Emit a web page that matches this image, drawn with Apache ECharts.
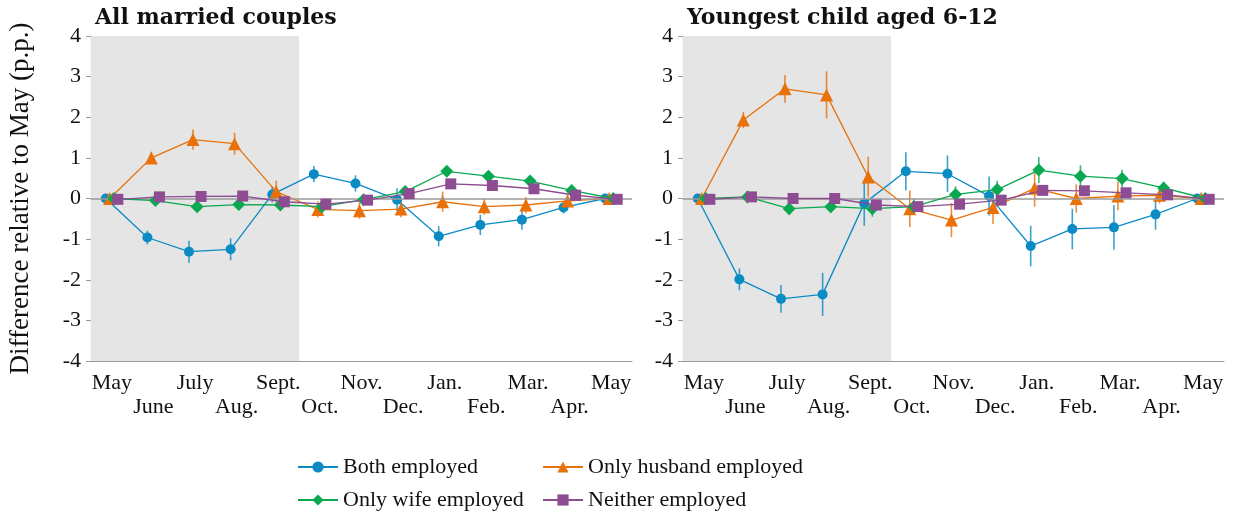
<!DOCTYPE html>
<html>
<head>
<meta charset="utf-8">
<script src="https://cdn.jsdelivr.net/npm/echarts@6/dist/echarts.min.js"></script>
<style>
  html, body { margin: 0; padding: 0; background: #fff; }
  #chart { width: 1237px; height: 516px; }
</style>
</head>
<body>
<div id="chart"></div>
<script>
// months on the x axis
var months = ['May', 'June', 'July', 'Aug.', 'Sept.', 'Oct.', 'Nov.', 'Dec.', 'Jan.', 'Feb.', 'Mar.', 'Apr.', 'May'];
var yTicks = [-4, -3, -2, -1, 0, 1, 2, 3, 4];
var seriesNames = ['Both employed', 'Only husband employed', 'Only wife employed', 'Neither employed'];
var panelTitles = ['All married couples', 'Youngest child aged 6-12'];

// panel 1: all married couples (point estimate, half width of the bar)
var bothA = [0, -0.96, -1.31, -1.25, 0.1, 0.6, 0.37, -0.03, -0.93, -0.65, -0.52, -0.22, 0];
var bothAErr = [0, 0.17, 0.27, 0.27, 0.2, 0.2, 0.2, 0.28, 0.25, 0.25, 0.25, 0.15, 0.05];
var husbA = [0, 1.0, 1.45, 1.35, 0.17, -0.27, -0.3, -0.26, -0.08, -0.2, -0.16, -0.06, 0];
var husbAErr = [0, 0.15, 0.25, 0.27, 0.27, 0.2, 0.2, 0.2, 0.25, 0.2, 0.2, 0.15, 0.05];
var wifeA = [0, -0.05, -0.2, -0.15, -0.16, -0.2, -0.03, 0.17, 0.67, 0.55, 0.43, 0.2, 0];
var wifeAErr = [0, 0.08, 0.1, 0.1, 0.1, 0.1, 0.1, 0.1, 0.12, 0.1, 0.1, 0.1, 0.05];
var neithA = [-0.02, 0.04, 0.05, 0.06, -0.08, -0.14, -0.04, 0.12, 0.36, 0.32, 0.24, 0.08, -0.02];
var neithAErr = [0, 0.07, 0.07, 0.07, 0.07, 0.07, 0.07, 0.07, 0.08, 0.07, 0.07, 0.07, 0.04];

// panel 2: youngest child aged 6-12
var bothB = [0, -1.99, -2.47, -2.36, -0.12, 0.67, 0.61, 0.06, -1.17, -0.75, -0.71, -0.39, 0];
var bothBErr = [0, 0.27, 0.34, 0.53, 0.55, 0.47, 0.45, 0.48, 0.5, 0.5, 0.55, 0.38, 0.05];
var husbB = [0, 1.93, 2.7, 2.55, 0.53, -0.25, -0.53, -0.22, 0.25, 0.0, 0.06, 0.08, 0];
var husbBErr = [0, 0.2, 0.34, 0.58, 0.5, 0.45, 0.42, 0.41, 0.45, 0.35, 0.35, 0.2, 0.08];
var wifeB = [0, 0.04, -0.25, -0.2, -0.25, -0.2, 0.1, 0.22, 0.7, 0.55, 0.49, 0.26, 0];
var wifeBErr = [0, 0.12, 0.15, 0.15, 0.2, 0.2, 0.2, 0.22, 0.32, 0.27, 0.22, 0.15, 0.05];
var neithB = [-0.02, 0.04, 0.0, 0.0, -0.16, -0.2, -0.14, -0.04, 0.2, 0.19, 0.14, 0.09, -0.02];
var neithBErr = [0, 0.1, 0.1, 0.1, 0.1, 0.1, 0.1, 0.1, 0.1, 0.1, 0.1, 0.1, 0.05];

var colors = ['#0a8bc4', '#e8710a', '#0aa84f', '#8e4c93'];
var symbols = ['circle', 'triangle', 'diamond', 'rect'];
var symbolSizes = [10, 13, 13, 11];
var dodge = [-0.145, -0.05, 0.05, 0.145];
var serif = 'Liberation Serif';

var panels = [
  { vals: [bothA, husbA, wifeA, neithA], errs: [bothAErr, husbAErr, wifeAErr, neithAErr] },
  { vals: [bothB, husbB, wifeB, neithB], errs: [bothBErr, husbBErr, wifeBErr, neithBErr] }
];

var myChart = echarts.init(document.getElementById('chart'));

var grids = [
  { left: 91, right: 605, top: 36, bottom: 155 },
  { left: 683, right: 13, top: 36, bottom: 155 }
];
var xAxes = [];
var yAxes = [];
var series = [];

panels.forEach(function (p, g) {
  // visible category axis (labels + ticks)
  xAxes.push({
    gridIndex: g,
    type: 'category',
    data: months,
    boundaryGap: true,
    axisLine: { onZero: false, lineStyle: { color: '#9a9a9a', width: 1.2 } },
    axisTick: { alignWithLabel: true, length: 5, lineStyle: { color: '#9a9a9a' } },
    axisLabel: {
      interval: 0,
      color: '#111',
      fontFamily: serif,
      fontSize: 22,
      lineHeight: 24,
      margin: 10,
      formatter: function (v, i) { return i % 2 ? '\n' + v : v; }
    },
    splitLine: { show: false }
  });
  // hidden value axis used to place the dodged points
  xAxes.push({ gridIndex: g, type: 'value', min: -0.5, max: 12.5, show: false, axisLine: { onZero: false } });

  yAxes.push({
    gridIndex: g,
    type: 'value',
    min: yTicks[0], max: yTicks[yTicks.length - 1], interval: 1,
    name: g === 0 ? 'Difference relative to May (p.p.)' : '',
    nameLocation: 'middle',
    nameGap: 57,
    nameTextStyle: { fontFamily: serif, fontSize: 27, color: '#111' },
    axisLine: { show: true, onZero: false, lineStyle: { color: '#9a9a9a', width: 1.2 } },
    axisTick: { show: true, length: 5, lineStyle: { color: '#9a9a9a' } },
    axisLabel: { color: '#111', fontFamily: serif, fontSize: 22, margin: 10 },
    splitLine: { show: false }
  });

  var xi = g * 2 + 1;

  // shaded months + zero line
  series.push({
    name: 'bg' + g,
    type: 'line',
    xAxisIndex: xi,
    yAxisIndex: g,
    data: [],
    silent: true,
    z: 0,
    markArea: {
      silent: true,
      itemStyle: { color: '#e5e5e5' },
      data: [[{ xAxis: -0.5 }, { xAxis: 4.5 }]]
    },
    markLine: {
      silent: true,
      symbol: 'none',
      label: { show: false },
      lineStyle: { color: '#9a9a9a', width: 1.5, type: 'solid' },
      data: [{ yAxis: 0 }]
    }
  });

  p.vals.forEach(function (vals, s) {
    var err = p.errs[s];
    var bars = vals.map(function (v, i) { return [i + dodge[s], v - err[i], v + err[i]]; });
    series.push({
      name: seriesNames[s] + ' CI ' + g,
      type: 'custom',
      xAxisIndex: xi,
      yAxisIndex: g,
      z: 2,
      silent: true,
      encode: { x: 0, y: [1, 2] },
      data: bars,
      renderItem: function (params, api) {
        var a = api.coord([api.value(0), api.value(1)]);
        var b = api.coord([api.value(0), api.value(2)]);
        return {
          type: 'line',
          shape: { x1: a[0], y1: a[1], x2: b[0], y2: b[1] },
          style: { stroke: colors[s], lineWidth: 1.6, opacity: 0.8 }
        };
      }
    });
  });

  p.vals.forEach(function (vals, s) {
    series.push({
      name: seriesNames[s],
      type: 'line',
      xAxisIndex: xi,
      yAxisIndex: g,
      z: 3 + s,
      data: vals.map(function (v, i) { return [i + dodge[s], v]; }),
      symbol: symbols[s],
      symbolSize: symbolSizes[s],
      showAllSymbol: true,
      color: colors[s],
      lineStyle: { color: colors[s], width: 1.3 },
      itemStyle: { color: colors[s] }
    });
  });
});

// one legend per item so the 2x2 block lines up like the original
var legendText = { fontFamily: serif, fontSize: 22, color: '#111' };
var legendPos = [[297, 456], [542, 456], [297, 489], [542, 489]];
var legends = seriesNames.map(function (n, k) {
  return {
    data: [n], left: legendPos[k][0], top: legendPos[k][1],
    itemWidth: 40, itemHeight: 14, textStyle: legendText, padding: 0
  };
});

var titleStyle = { fontFamily: 'DejaVu Serif', fontWeight: 'bold', fontSize: 22, color: '#111' };

var option = {
  animation: false,
  backgroundColor: '#fff',
  title: [
    { text: panelTitles[0], left: 95, top: 7, padding: 0, textStyle: titleStyle },
    { text: panelTitles[1], left: 687, top: 7, padding: 0, textStyle: titleStyle }
  ],
  grid: grids,
  xAxis: xAxes,
  yAxis: yAxes,
  legend: legends,
  series: series
};

myChart.setOption(option);
window.addEventListener('resize', function () { myChart.resize(); });
</script>
</body>
</html>
